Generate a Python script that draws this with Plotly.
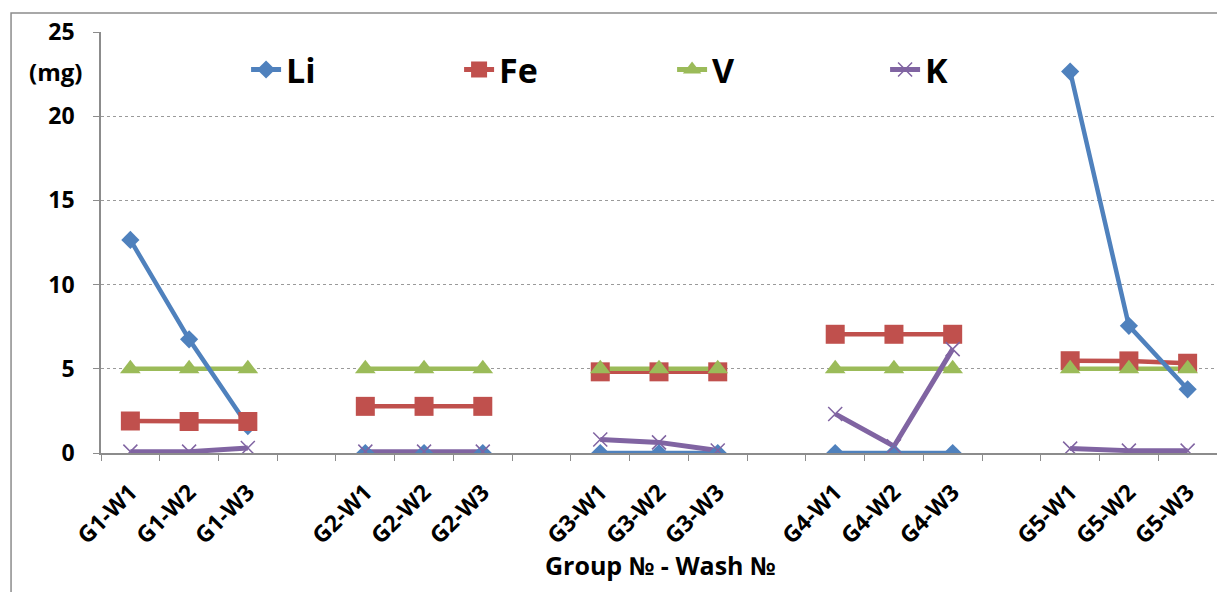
import plotly.graph_objects as go

# Categories: five groups of three washes, separated by blank slots
categories = [
    "G1-W1", "G1-W2", "G1-W3", " ",
    "G2-W1", "G2-W2", "G2-W3", "  ",
    "G3-W1", "G3-W2", "G3-W3", "   ",
    "G4-W1", "G4-W2", "G4-W3", "    ",
    "G5-W1", "G5-W2", "G5-W3",
]

# Mass per element (mg); None marks the blank slots
li = [12.65, 6.75, 1.6, None, 0.0, 0.0, 0.0, None, 0.0, 0.0, 0.0, None,
      0.0, 0.0, 0.0, None, 22.65, 7.55, 3.78]
fe = [1.9, 1.87, 1.87, None, 2.77, 2.77, 2.77, None, 4.82, 4.82, 4.82, None,
      7.05, 7.05, 7.05, None, 5.48, 5.47, 5.33]
v = [5.0, 5.0, 5.0, None, 5.0, 5.0, 5.0, None, 5.0, 5.0, 5.0, None,
     5.0, 5.0, 5.0, None, 5.0, 5.0, 5.0]
k = [0.08, 0.08, 0.3, None, 0.08, 0.08, 0.08, None, 0.8, 0.63, 0.15, None,
     2.32, 0.4, 6.17, None, 0.26, 0.14, 0.14]

series = [
    ("Li", li, "#4F81BD", "diamond", 14, 4.5),
    ("Fe", fe, "#C0504D", "square", 19, 4.5),
    ("V", v, "#9BBB59", "triangle-up", 18, 4.5),
    ("K", k, "#8064A2", "x-thin", 14, 5),
]
line_order = ["Fe", "V", "Li", "K"]

FONT = "Open Sans"
GRAY = "#8c8c8c"

fig = go.Figure()

# connecting lines first
by_name = {s[0]: s for s in series}
for name in line_order:
    _, ys, color, _, _, lw = by_name[name]
    fig.add_trace(go.Scatter(
        x=categories, y=ys, mode="lines", connectgaps=False,
        line=dict(color=color, width=lw), showlegend=False, hoverinfo="skip",
    ))

# markers on top of every line
for name, ys, color, sym, size, lw in series:
    fig.add_trace(go.Scatter(
        x=categories, y=ys, mode="markers", name=name, showlegend=False,
        marker=dict(symbol=sym, size=size, color=color,
                    line=dict(color=color, width=1.5 if sym == "x-thin" else 0)),
    ))

# legend entries
for name, ys, color, sym, size, lw in series:
    fig.add_trace(go.Scatter(
        x=[None], y=[None], mode="lines+markers", name=name,
        line=dict(color=color, width=5),
        marker=dict(symbol=sym, size=size, color=color,
                    line=dict(color=color, width=1.5 if sym == "x-thin" else 0)),
    ))

fig.update_layout(
    width=1217, height=592,
    margin=dict(l=101, r=0, t=32, b=139),
    paper_bgcolor="white", plot_bgcolor="white",
    font=dict(family=FONT, color="black"),
    legend=dict(
        orientation="h", x=0.13, xanchor="left", y=0.91, yanchor="middle",
        font=dict(family=FONT, size=34, color="black", weight="bold"),
        entrywidth=168, entrywidthmode="pixels",
        bgcolor="rgba(0,0,0,0)", itemsizing="trace",
    ),
    xaxis=dict(
        type="category", categoryorder="array", categoryarray=categories,
        tickson="boundaries", ticks="outside", ticklen=6, tickcolor=GRAY,
        showline=True, linecolor=GRAY, linewidth=1.5, showgrid=False,
        tickangle=-45, tickfont=dict(family=FONT, size=23, weight="bold"),
        ticklabelstandoff=15,
        range=[-0.5, len(categories) - 0.5],
    ),
    yaxis=dict(
        range=[0, 25], dtick=5, ticks="outside", ticklen=6, tickcolor=GRAY,
        showline=True, linecolor=GRAY, linewidth=1.5,
        showgrid=True, gridcolor="#9a9a9a", griddash="dot", gridwidth=1,
        zeroline=False, ticklabelstandoff=14,
        tickfont=dict(family=FONT, size=23, weight="bold"),
    ),
    shapes=[dict(
        type="rect", xref="paper", yref="paper",
        x0=-0.0806, x1=1.02, y0=-0.4, y1=1.045,
        line=dict(color=GRAY, width=1.5), fillcolor="rgba(0,0,0,0)", layer="below",
    )],
    annotations=[
        dict(text="(mg)", xref="paper", yref="paper", x=-0.0405, y=0.905,
             xanchor="center", yanchor="middle", showarrow=False,
             font=dict(family=FONT, size=24, weight="bold")),
        dict(text="Group № - Wash №", xref="paper", yref="paper", x=0.501, y=-0.265,
             xanchor="center", yanchor="middle", showarrow=False,
             font=dict(family=FONT, size=25, weight="bold")),
    ],
)

fig.write_html("out.html")
